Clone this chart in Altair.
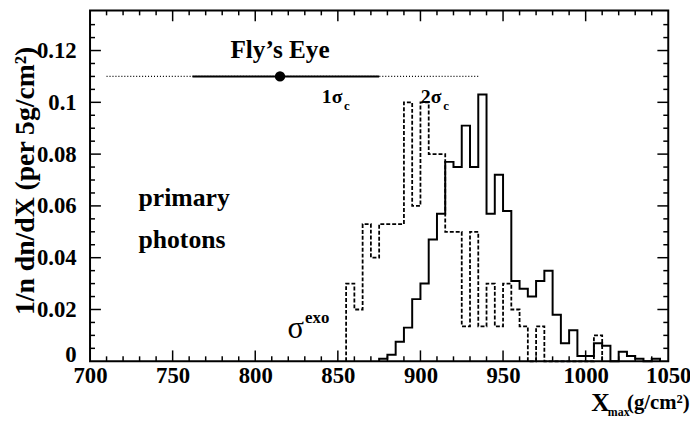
import altair as alt
import pandas as pd

# ---------------- data ----------------
bin_lo = list(range(855, 1050, 5))  # lower bin edges (g/cm^2), 5 g/cm^2 bins

photons = [0, 0, 0, 0, 0.001, 0.0025, 0.0075, 0.013, 0.024, 0.030,
           0.047, 0.057, 0.077, 0.075, 0.091, 0.075, 0.103, 0.057, 0.072, 0.058,
           0.031, 0.028, 0.025, 0.031, 0.035, 0.018, 0.007, 0.012, 0.002, 0.002,
           0.007, 0.006, 0, 0.0037, 0.002, 0.001, 0, 0.001, 0]

exo = [0.030, 0.020, 0.053, 0.040, 0.053, 0.053, 0.053, 0.100, 0.060, 0.100,
       0.080, 0.080, 0.050, 0.050, 0.0135, 0.050, 0.0135, 0.030, 0.0135, 0.030,
       0.020, 0.0135, 0, 0.0135, 0, 0, 0, 0, 0, 0,
       0.010, 0, 0, 0, 0, 0, 0, 0, 0]

flys_eye_xmax = 815
flys_eye_1sigma = [762, 875]
flys_eye_2sigma = [710, 935]
flys_eye_level = 0.110

x_ticks = [700, 750, 800, 850, 900, 950, 1000, 1050]
y_ticks = [0, 0.02, 0.04, 0.06, 0.08, 0.1, 0.12]
x_minor = [v for v in range(700, 1051, 10) if v % 50 != 0]
y_minor = [0.005, 0.01, 0.015, 0.025, 0.03, 0.035, 0.045, 0.05, 0.055,
           0.065, 0.07, 0.075, 0.085, 0.09, 0.095, 0.105, 0.11, 0.115, 0.125, 0.13]

W, H = 585, 355
FONT = "Liberation Serif"


def step_frame(values):
    idx = [i for i, v in enumerate(values) if v > 0]
    a, b = idx[0], idx[-1]
    pts = [(bin_lo[a], 0.0)]
    for i in range(a, b + 1):
        pts.append((bin_lo[i], values[i]))
    pts.append((bin_lo[b] + 5, 0.0))
    return pd.DataFrame({"x": [p[0] for p in pts], "y": [p[1] for p in pts],
                         "i": list(range(len(pts)))})


xs = alt.Scale(domain=[700, 1050], nice=False, zero=False)
ys = alt.Scale(domain=[0, 0.1355], nice=False, zero=False)

xaxis = alt.Axis(values=x_ticks, format="d", ticks=False, domain=False, grid=False,
                 labelFont=FONT, labelFontWeight="bold", labelFontSize=23,
                 labelColor="black", labelPadding=3, labelFlush=False,
                 labelOverlap=False)
yaxis = alt.Axis(values=y_ticks, format=".2~f", ticks=False, domain=False, grid=False,
                 labelFont=FONT, labelFontWeight="bold", labelFontSize=23,
                 labelColor="black", labelPadding=14, labelFlush=False,
                 labelOverlap=False,
                 labelBaseline=alt.condition("datum.value == 0",
                                             alt.value("alphabetic"),
                                             alt.value("middle")),
                 title="1/n dn/dX (per 5g/cm²)", titleFont=FONT,
                 titleFontWeight="bold", titleFontSize=28, titleColor="black",
                 titleAngle=270, titleAlign="center", titleBaseline="bottom",
                 titleX=-51, titleY=172)

X = alt.X("x:Q", scale=xs, axis=xaxis, title=None)
Y = alt.Y("y:Q", scale=ys, axis=yaxis, title="1/n dn/dX (per 5g/cm²)")

hist_photon = alt.Chart(step_frame(photons)).mark_line(
    interpolate="step-after", color="black", strokeWidth=2
).encode(x=X, y=Y, order="i:Q")

hist_exo = alt.Chart(step_frame(exo)).mark_line(
    interpolate="step-after", color="black", strokeWidth=1.8, strokeDash=[4, 2]
).encode(x=X, y=Y, order="i:Q")

fe2 = alt.Chart(pd.DataFrame({"x": [flys_eye_2sigma[0]], "x2": [flys_eye_2sigma[1]],
                              "y": [flys_eye_level]})).mark_rule(
    color="black", strokeWidth=1.3, strokeDash=[1, 2]
).encode(x=X, x2="x2:Q", y=Y)

fe1 = alt.Chart(pd.DataFrame({"x": [flys_eye_1sigma[0]], "x2": [flys_eye_1sigma[1]],
                              "y": [flys_eye_level]})).mark_rule(
    color="black", strokeWidth=2
).encode(x=X, x2="x2:Q", y=Y)

fe_pt = alt.Chart(pd.DataFrame({"x": [flys_eye_xmax], "y": [flys_eye_level]})).mark_point(
    filled=True, color="black", size=110, opacity=1
).encode(x=X, y=Y)


def txt(s, x, y, size, weight="bold", align="center", baseline="middle"):
    return alt.Chart(pd.DataFrame({"x": [x], "y": [y], "t": [s]})).mark_text(
        font=FONT, fontSize=size, fontWeight=weight, align=align,
        baseline=baseline, color="black"
    ).encode(x=X, y=Y, text="t:N")


texts = [
    txt("Fly’s Eye", 815, 0.1202, 25.5),
    txt("1σ", 846.5, 0.1019, 20),
    txt("c", 855.5, 0.0985, 13),
    txt("2σ", 906.5, 0.1019, 20),
    txt("c", 915.5, 0.0985, 13),
    txt("primary", 729.3, 0.063, 26, align="left"),
    txt("photons", 729.3, 0.0467, 26, align="left"),
    txt("σ", 824.5, 0.0124, 31, weight="normal"),
    txt("exo", 837.5, 0.0168, 17),
    txt("X", 1009.0, -0.0160, 26),
    txt("max", 1020.0, -0.0196, 12),
    txt("(g/cm²)", 1044.0, -0.0160, 21),
]

# inward ticks on all four sides
def xtick_layer(vals, length):
    df = pd.DataFrame({"x": vals})
    bot = alt.Chart(df).mark_rule(color="black", strokeWidth=1.5).encode(
        x=X, y=alt.value(H), y2=alt.value(H - length))
    top = alt.Chart(df).mark_rule(color="black", strokeWidth=1.5).encode(
        x=X, y=alt.value(0), y2=alt.value(length))
    return [bot, top]


def ytick_layer(vals, length):
    df = pd.DataFrame({"y": vals})
    left = alt.Chart(df).mark_rule(color="black", strokeWidth=1.5).encode(
        y=Y, x=alt.value(0), x2=alt.value(length))
    right = alt.Chart(df).mark_rule(color="black", strokeWidth=1.5).encode(
        y=Y, x=alt.value(W), x2=alt.value(W - length))
    return [left, right]


ticks = (xtick_layer(x_ticks[1:-1], 11) + xtick_layer(x_minor, 5)
         + ytick_layer(y_ticks[1:], 11) + ytick_layer(y_minor, 5))

chart = alt.layer(
    hist_exo, hist_photon, fe2, fe1, fe_pt, *texts, *ticks
).properties(
    width=W, height=H,
    padding={"left": 83, "top": 0, "right": 22, "bottom": 58},
    autosize=alt.AutoSizeParams(type="none"),
    background="white",
).configure_view(
    stroke="black", strokeWidth=2
)

chart.save("out.html", embed_options={"renderer": "svg", "actions": False})
